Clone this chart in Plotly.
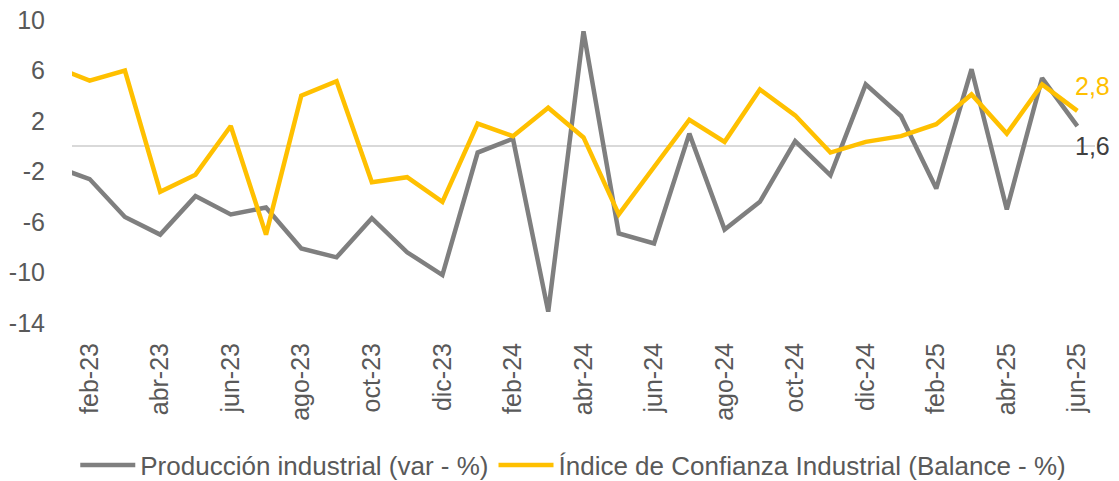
import plotly.graph_objects as go

months = ["ene-23", "feb-23", "mar-23", "abr-23", "may-23", "jun-23", "jul-23", "ago-23",
          "sep-23", "oct-23", "nov-23", "dic-23", "ene-24", "feb-24", "mar-24", "abr-24",
          "may-24", "jun-24", "jul-24", "ago-24", "sep-24", "oct-24", "nov-24", "dic-24",
          "ene-25", "feb-25", "mar-25", "abr-25", "may-25", "jun-25"]

produccion = [-1.6, -2.6, -5.6, -7.0, -3.95, -5.4, -4.85, -8.1, -8.8, -5.7, -8.4, -10.2,
              -0.5, 0.6, -13.1, 9.1, -6.9, -7.7, 1.0, -6.6, -4.4, 0.4, -2.3, 4.9,
              2.4, -3.35, 6.1, -5.0, 5.4, 1.6]

confianza = [6.3, 5.2, 6.0, -3.6, -2.25, 1.6, -7.0, 4.0, 5.15, -2.85, -2.45, -4.4,
             1.8, 0.8, 3.05, 0.7, -5.4, -1.6, 2.1, 0.35, 4.5, 2.45, -0.5, 0.35,
             0.8, 1.75, 4.1, 1.0, 4.9, 2.8]

tick_months = months[1::2]
y_ticks = [-14, -10, -6, -2, 2, 6, 10]
y_ticktext = [str(v) for v in y_ticks]

GRAY = "#7f7f7f"
YELLOW = "#FFC000"
TEXT = "#595959"
FONT = "Liberation Sans, Arial, sans-serif"

fig = go.Figure()
fig.add_trace(go.Scatter(x=months, y=produccion, mode="lines", name="Producción industrial (var - %)",
                         line=dict(color=GRAY, width=4.5)))
fig.add_trace(go.Scatter(x=months, y=confianza, mode="lines", name="Índice de Confianza Industrial (Balance - %)",
                         line=dict(color=YELLOW, width=4.5)))

def fmt(v):
    return f"{v:.1f}".replace(".", ",")

fig.add_annotation(x=months[-1], y=confianza[-1], text=fmt(confianza[-1]), showarrow=False,
                   xanchor="left", yanchor="middle", xshift=-4, yshift=25,
                   font=dict(color=YELLOW, size=25, family=FONT))
fig.add_annotation(x=months[-1], y=produccion[-1], text=fmt(produccion[-1]), showarrow=False,
                   xanchor="left", yanchor="middle", xshift=-4, yshift=-20,
                   font=dict(color="#404040", size=25, family=FONT))

fig.update_layout(
    width=1119, height=481,
    margin=dict(l=72, r=24, t=20, b=158, autoexpand=False),
    paper_bgcolor="white", plot_bgcolor="white",
    font=dict(family=FONT, size=24, color=TEXT),
    showlegend=True,
    legend=dict(orientation="h", x=0.49, xanchor="center", y=-0.469, yanchor="middle",
                font=dict(size=26, color=TEXT), itemwidth=55, tracegroupgap=0,
                bgcolor="rgba(0,0,0,0)"),
    xaxis=dict(type="category", categoryorder="array", categoryarray=months,
               range=[0.5, len(months) - 0.5], tickmode="array", tickvals=tick_months,
               ticktext=tick_months, tickangle=-90, showgrid=False, zeroline=False,
               showline=False, ticks="outside", ticklen=9, tickcolor="rgba(0,0,0,0)",
               tickfont=dict(size=25, color=TEXT), automargin=False,
               ticklabeloverflow="allow"),
    yaxis=dict(range=[-14, 10], tickmode="array", tickvals=y_ticks, ticktext=y_ticktext,
               showgrid=False, zeroline=True, zerolinecolor="#d9d9d9", zerolinewidth=2,
               showline=False, ticks="outside", ticklen=21, tickcolor="rgba(0,0,0,0)",
               tickfont=dict(size=25, color=TEXT), automargin=False,
               ticklabeloverflow="allow"),
)

fig.write_html("out.html", config={"displayModeBar": False},
               post_script="document.body.style.margin='0';")
